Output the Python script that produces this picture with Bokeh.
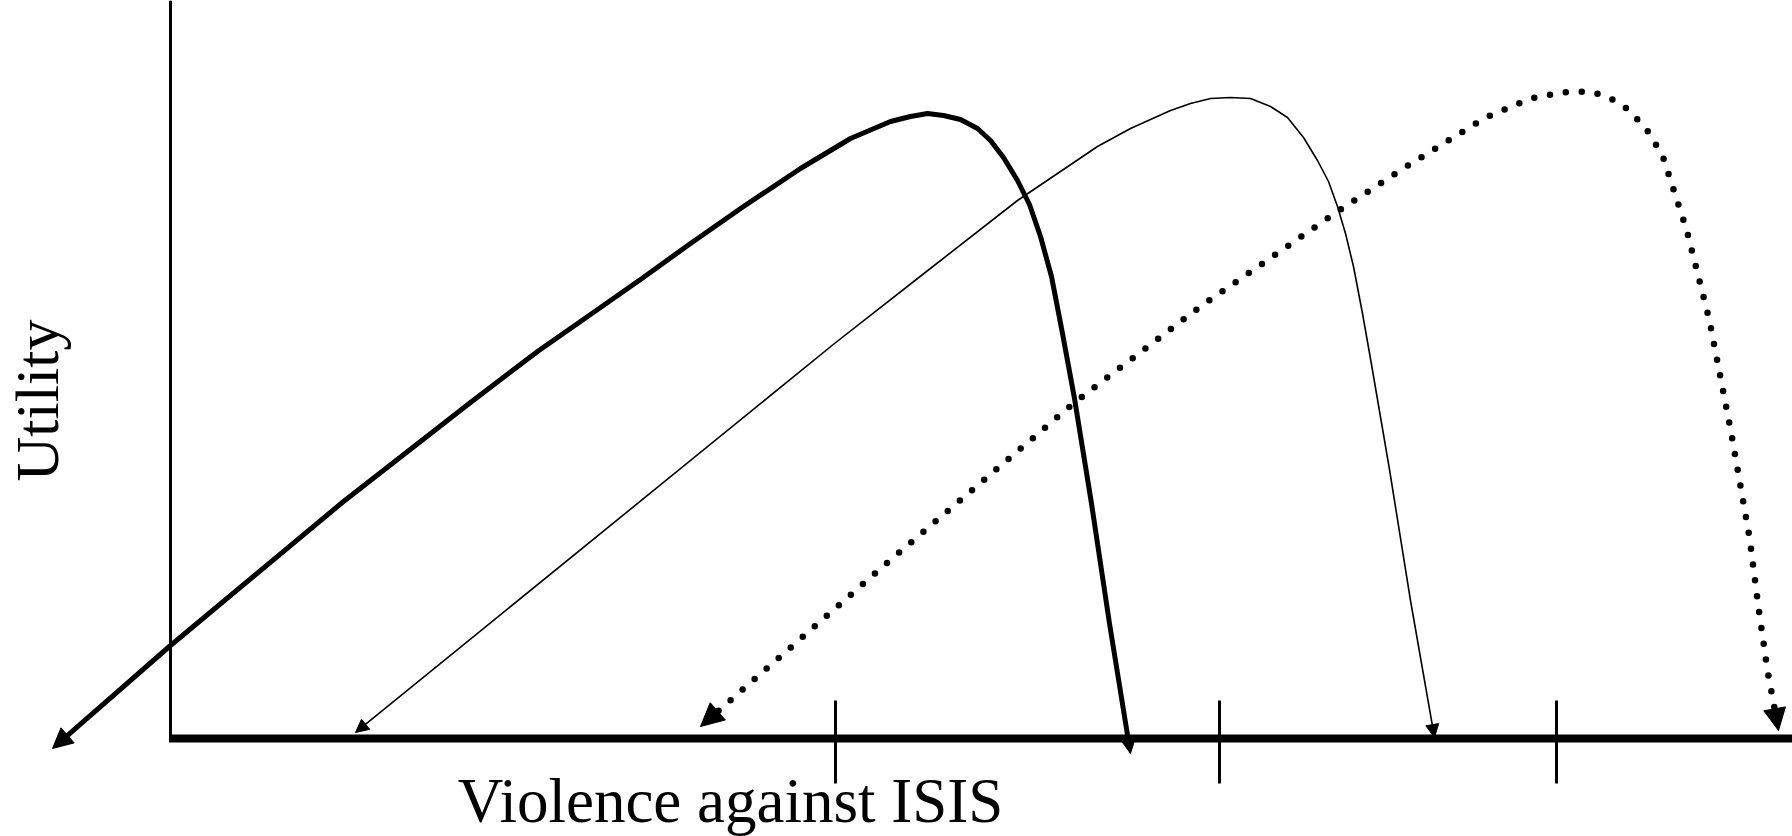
import math
from bokeh.plotting import figure
from bokeh.models import Range1d, Arrow, NormalHead, Label
from bokeh.embed import file_html
from bokeh.resources import INLINE

# Diagram units: origin where the two axes meet, x = violence, y = utility
x_axis_end = 1622
y_axis_top = 738
tick_positions = [665, 1049, 1386]
tick_low, tick_high = -45, 38

x_label = "Violence against ISIS"
y_label = "Utility"

# Thick solid curve (first and last points are arrow tips)
thick_x = [-118, 0, 173, 300, 367, 420, 470, 520, 573, 630, 680, 720, 740, 757, 773, 790, 807, 820, 833, 847,
           859, 870, 881, 892, 904, 921, 939, 960]
thick_y = [-10, 93, 237, 336, 387, 424, 459, 495, 532, 570, 600, 617, 622, 625, 623, 619, 610, 598, 581, 558,
           534, 502, 462, 405, 340, 235, 115, -15]

# Thin solid curve
thin_x = [185, 664, 756, 847, 927, 960, 980, 1000, 1020, 1040, 1060, 1080, 1100, 1117, 1133, 1147, 1158, 1167,
          1175, 1183, 1192, 1201, 1219, 1240, 1264]
thin_y = [6, 395, 467, 538, 592, 610, 619, 628, 635, 640, 641, 640, 632, 621, 601, 578, 557, 532,
          505, 472, 425, 374, 269, 138, 1]

# Dotted curve
dot_x = [530, 717, 904, 1030, 1167, 1236, 1315, 1360, 1391, 1407, 1423, 1438, 1453, 1475, 1492, 1516, 1539,
         1561, 1579, 1588, 1597, 1603, 1608]
dot_y = [12, 176, 336, 432, 527, 572, 621, 640, 646, 647, 646, 641, 633, 611, 583, 509, 418,
         304, 201, 131, 68, 36, 8]

p = figure(width=1792, height=836, x_range=Range1d(-170, 1622), y_range=Range1d(-98, 738),
           output_backend="svg", toolbar_location=None, x_axis_type=None, y_axis_type=None,
           min_border=0, outline_line_color=None, background_fill_color="white",
           border_fill_color="white")


def trimmed(xs, ys, l0, l1):
    xs = list(xs)
    ys = list(ys)
    dx, dy = xs[1] - xs[0], ys[1] - ys[0]
    d = math.hypot(dx, dy)
    xs[0] += dx / d * l0
    ys[0] += dy / d * l0
    dx, dy = xs[-2] - xs[-1], ys[-2] - ys[-1]
    d = math.hypot(dx, dy)
    xs[-1] += dx / d * l1
    ys[-1] += dy / d * l1
    return xs, ys


def head(xs, ys, idx_from, idx_to, size):
    p.add_layout(Arrow(end=NormalHead(size=size, fill_color="black", line_color="black", line_width=1),
                       x_start=xs[idx_from], y_start=ys[idx_from], x_end=xs[idx_to], y_end=ys[idx_to],
                       line_alpha=0))


# thick curve
tx, ty = trimmed(thick_x, thick_y, 14, 10)
p.line(tx, ty, line_width=5, line_color="black", line_join="round")
head(thick_x, thick_y, 1, 0, 20)
head(thick_x, thick_y, -2, -1, 14)

# thin curve
nx, ny = trimmed(thin_x, thin_y, 10, 10)
p.line(nx, ny, line_width=1.6, line_color="black", line_join="round")
head(thin_x, thin_y, 1, 0, 13)
head(thin_x, thin_y, -2, -1, 13)

# dotted curve
dx_, dy_ = trimmed(dot_x, dot_y, 24, 22)
p.line(dx_, dy_, line_width=6.5, line_color="black", line_dash="0 16", line_cap="round", line_join="round")
head(dot_x, dot_y, 1, 0, 23)
head(dot_x, dot_y, -2, -1, 22)

# axes
p.segment(x0=[0], y0=[0], x1=[0], y1=[y_axis_top], line_width=3, line_color="black")
p.segment(x0=[-1.5], y0=[0], x1=[x_axis_end], y1=[0], line_width=8, line_color="black")
p.segment(x0=tick_positions, y0=[tick_low] * 3, x1=tick_positions, y1=[tick_high] * 3,
          line_width=3, line_color="black")

p.add_layout(Label(x=560, y=-62, text=x_label, text_align="center", text_baseline="alphabetic",
                   text_font="Liberation Serif", text_font_size="63px", text_color="black"))
p.add_layout(Label(x=-134, y=338, text=y_label, angle=math.pi / 2, text_align="center",
                   text_baseline="alphabetic", text_font="Liberation Serif", text_font_size="62px",
                   text_color="black"))

open("out.html", "w").write(file_html(p, INLINE))
